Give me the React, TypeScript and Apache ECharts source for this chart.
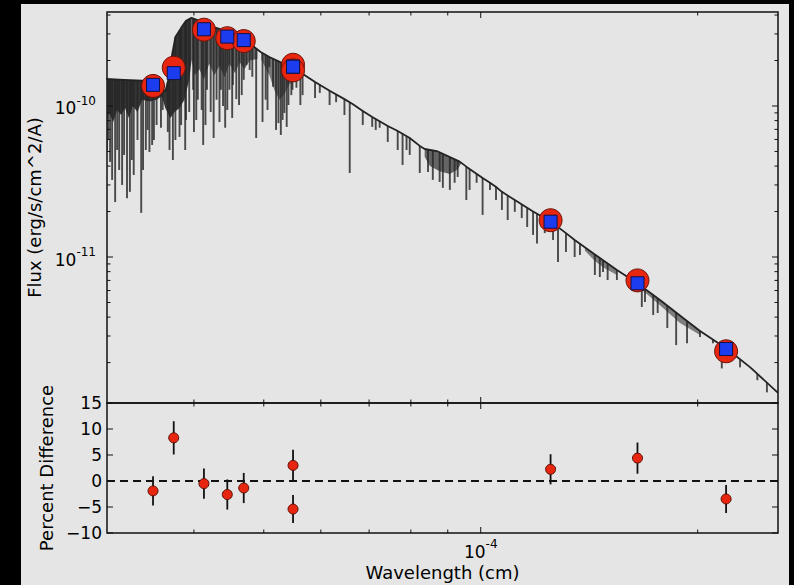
import React, { useEffect, useRef } from 'react';
import * as echarts from 'echarts';

// ---------- data ----------
// model spectrum: continuum (upper envelope), wavelength in cm, flux in erg/s/cm^2/A
const spectrumWave = [3.02e-5, 3.20e-5, 3.39e-5, 3.52e-5, 3.61e-5, 3.65e-5, 3.70e-5, 3.73e-5, 3.77e-5, 3.84e-5,
  3.90e-5, 3.97e-5, 4.07e-5, 4.20e-5, 4.34e-5, 4.48e-5, 4.63e-5, 4.75e-5, 4.87e-5, 4.95e-5,
  5.09e-5, 5.26e-5, 5.48e-5, 5.72e-5, 5.89e-5, 6.17e-5, 6.47e-5, 6.64e-5, 6.86e-5, 7.07e-5,
  7.43e-5, 7.67e-5, 7.97e-5, 8.23e-5, 8.36e-5, 8.69e-5, 9.35e-5, 9.56e-5, 1.006e-4, 1.03e-4,
  1.054e-4, 1.07e-4, 1.115e-4, 1.182e-4, 1.252e-4, 1.313e-4, 1.35e-4, 1.44e-4, 1.545e-4, 1.647e-4,
  1.773e-4, 1.909e-4, 2.015e-4, 2.197e-4, 2.366e-4, 2.585e-4];
const spectrumFlux = [1.51e-10, 1.49e-10, 1.47e-10, 1.38e-10, 1.32e-10, 1.24e-10, 1.60e-10, 2.18e-10, 2.86e-10, 3.29e-10,
  3.66e-10, 3.83e-10, 3.66e-10, 3.39e-10, 3.24e-10, 3.04e-10, 2.86e-10, 2.66e-10, 2.42e-10, 2.28e-10,
  2.11e-10, 1.96e-10, 1.81e-10, 1.58e-10, 1.44e-10, 1.26e-10, 1.11e-10, 1.03e-10, 9.27e-11, 8.46e-11,
  7.37e-11, 6.83e-11, 6.14e-11, 5.44e-11, 5.19e-11, 5.03e-11, 4.28e-11, 3.95e-11, 3.34e-11, 3.10e-11,
  2.87e-11, 2.70e-11, 2.385e-11, 2.00e-11, 1.71e-11, 1.44e-11, 1.296e-11, 1.04e-11, 8.2e-12, 6.74e-12,
  5.19e-12, 3.95e-12, 3.24e-12, 2.46e-12, 1.86e-12, 1.26e-12];

// absorption lines: wavelength and flux at the bottom of each line
const lineWave = [3.03e-5, 3.04e-5, 3.06e-5, 3.08e-5, 3.11e-5, 3.13e-5, 3.15e-5, 3.18e-5, 3.20e-5, 3.23e-5,
  3.26e-5, 3.28e-5, 3.30e-5, 3.34e-5, 3.38e-5, 3.40e-5, 3.43e-5, 3.45e-5, 3.47e-5, 3.50e-5,
  3.52e-5, 3.55e-5, 3.60e-5, 3.62e-5, 3.68e-5, 3.70e-5, 3.74e-5, 3.77e-5, 3.82e-5, 3.84e-5,
  3.89e-5, 3.90e-5, 3.94e-5, 3.99e-5, 4.00e-5, 4.03e-5, 4.05e-5, 4.10e-5, 4.12e-5, 4.15e-5,
  4.17e-5, 4.22e-5, 4.26e-5, 4.30e-5, 4.34e-5, 4.36e-5, 4.39e-5, 4.42e-5, 4.45e-5, 4.48e-5,
  4.52e-5, 4.53e-5, 4.58e-5, 4.62e-5, 4.66e-5, 4.69e-5, 4.73e-5, 4.78e-5, 4.82e-5, 4.88e-5,
  4.98e-5, 5.03e-5, 5.06e-5, 5.09e-5, 5.15e-5, 5.20e-5, 5.24e-5, 5.28e-5, 5.31e-5, 5.34e-5,
  5.38e-5, 5.41e-5, 5.46e-5, 5.48e-5, 5.55e-5, 5.62e-5, 5.66e-5, 5.89e-5, 5.98e-5, 6.17e-5,
  6.30e-5, 6.47e-5, 6.58e-5, 6.86e-5, 7.07e-5, 7.15e-5, 7.24e-5, 7.43e-5, 7.67e-5, 7.79e-5,
  7.89e-5, 7.97e-5, 8.23e-5, 8.45e-5, 8.58e-5, 8.77e-5, 8.86e-5, 9.06e-5, 9.20e-5, 9.29e-5,
  9.55e-5, 9.65e-5, 9.87e-5, 1.006e-4, 1.03e-4, 1.05e-4, 1.07e-4, 1.09e-4, 1.115e-4, 1.14e-4,
  1.16e-4, 1.182e-4, 1.197e-4, 1.227e-4, 1.26e-4, 1.28e-4, 1.313e-4, 1.35e-4, 1.373e-4, 1.44e-4,
  1.463e-4, 1.478e-4, 1.50e-4, 1.545e-4, 1.673e-4, 1.69e-4, 1.735e-4, 1.76e-4, 1.815e-4, 1.867e-4,
  1.933e-4, 2.015e-4, 2.10e-4, 2.16e-4, 2.29e-4, 2.42e-4, 2.495e-4];
const lineFlux = [5.11e-11, 5.95e-11, 4.26e-11, 3.24e-11, 2.31e-11, 5.11e-11, 3.77e-11, 3.00e-11, 4.74e-11, 2.45e-11,
  2.70e-11, 4.39e-11, 3.49e-11, 5.95e-11, 1.96e-11, 3.77e-11, 5.11e-11, 6.94e-11, 4.96e-11, 5.52e-11,
  5.95e-11, 7.48e-11, 7.18e-11, 9.41e-11, 6.72e-11, 5.11e-11, 4.39e-11, 5.95e-11, 6.24e-11, 7.48e-11,
  5.11e-11, 8.08e-11, 9.13e-11, 1.28e-10, 6.72e-11, 8.08e-11, 1.10e-10, 9.41e-11, 5.52e-11, 7.48e-11,
  1.28e-10, 9.13e-11, 6.14e-11, 1.10e-10, 7.83e-11, 1.28e-10, 1.00e-10, 7.18e-11, 9.41e-11, 1.28e-10,
  8.33e-11, 1.38e-10, 1.11e-10, 1.015e-10, 1.18e-10, 1.49e-10, 1.87e-10, 1.73e-10, 1.56e-10, 6.14e-11,
  7.83e-11, 1.10e-10, 9.41e-11, 1.81e-10, 1.34e-10, 6.94e-11, 7.70e-11, 6.43e-11, 8.08e-11, 8.99e-11,
  7.27e-11, 1.015e-10, 1.18e-10, 1.28e-10, 1.32e-10, 1.015e-10, 1.18e-10, 1.13e-10, 1.22e-10, 1.015e-10,
  1.06e-10, 8.72e-11, 3.60e-11, 7.48e-11, 7.27e-11, 6.94e-11, 7.18e-11, 5.78e-11, 5.11e-11, 4.07e-11,
  5.11e-11, 4.74e-11, 3.60e-11, 3.66e-11, 3.24e-11, 3.14e-11, 2.87e-11, 2.78e-11, 3.10e-11, 3.39e-11,
  2.385e-11, 2.78e-11, 3.10e-11, 1.90e-11, 2.78e-11, 2.385e-11, 2.05e-11, 1.758e-11, 1.99e-11, 1.81e-11,
  1.58e-11, 1.40e-11, 1.23e-11, 1.44e-11, 1.296e-11, 9.27e-12, 1.08e-11, 1.00e-11, 1.03e-11, 7.6e-12,
  7.37e-12, 7.95e-12, 7.04e-12, 7.04e-12, 4.67e-12, 5.03e-12, 4.13e-12, 4.26e-12, 3.39e-12, 2.61e-12,
  2.69e-12, 2.95e-12, 2.69e-12, 1.83e-12, 1.86e-12, 1.53e-12, 1.27e-12];

// lower edges of the blended (dense) absorption regions: [wavelength, flux]
const blendUV = [[3.02e-5, 6.94e-11], [3.05e-5, 9.13e-11], [3.09e-5, 7.83e-11], [3.13e-5, 9.41e-11], [3.17e-5, 8.72e-11],
  [3.21e-5, 9.7e-11], [3.25e-5, 8.33e-11], [3.29e-5, 1.0e-10], [3.34e-5, 9.13e-11], [3.39e-5, 1.10e-10],
  [3.47e-5, 1.07e-10], [3.55e-5, 1.10e-10], [3.61e-5, 1.16e-10], [3.65e-5, 9.7e-11], [3.71e-5, 8.33e-11],
  [3.76e-5, 9.13e-11], [3.82e-5, 9.7e-11], [3.88e-5, 1.10e-10], [3.94e-5, 1.49e-10], [3.97e-5, 2.02e-10]];
const blendBlue = [[3.97e-5, 2.02e-10], [4.01e-5, 1.6e-10], [4.07e-5, 1.75e-10], [4.13e-5, 1.5e-10], [4.20e-5, 1.9e-10],
  [4.27e-5, 1.6e-10], [4.34e-5, 1.85e-10], [4.41e-5, 1.55e-10], [4.48e-5, 1.9e-10], [4.56e-5, 1.65e-10],
  [4.63e-5, 1.95e-10], [4.70e-5, 1.75e-10], [4.78e-5, 2.0e-10], [4.90e-5, 2.05e-10]];
const blendGreen = [[4.96e-5, 2.02e-10], [5.09e-5, 1.6e-10], [5.18e-5, 1.25e-10], [5.26e-5, 1.1e-10], [5.34e-5, 1.2e-10],
  [5.43e-5, 1.4e-10], [5.52e-5, 1.5e-10], [5.61e-5, 1.55e-10]];
const blendNIR = [[8.36e-5, 4.62e-11], [8.50e-5, 4.0e-11], [8.77e-5, 3.7e-11], [9.06e-5, 3.55e-11], [9.29e-5, 3.8e-11],
  [9.40e-5, 4.2e-11]];
const blendJH = [[1.395e-4, 1.1e-11], [1.44e-4, 9.4e-12], [1.482e-4, 8.5e-12], [1.545e-4, 7.6e-12]];
const blendHK = [[1.663e-4, 6.2e-12], [1.773e-4, 4.8e-12], [1.89e-4, 3.65e-12], [2.015e-4, 3.05e-12]];

// photometry
const photWave = [3.51e-5, 3.75e-5, 4.13e-5, 4.45e-5, 4.69e-5, 5.49e-5, 5.49e-5, 1.25e-4, 1.65e-4, 2.19e-4];
const obsFlux = [1.357e-10, 1.793e-10, 3.20e-10, 2.81e-10, 2.69e-10, 1.875e-10, 1.72e-10, 1.752e-11, 7.0e-12, 2.375e-12];
const modelFlux = [1.38e-10, 1.65e-10, 3.22e-10, 2.88e-10, 2.73e-10, 1.82e-10, 1.82e-10, 1.713e-11, 6.70e-12, 2.46e-12];
const percentDiff = [-1.9, 8.3, -0.5, -2.6, -1.35, 3.0, -5.4, 2.25, 4.4, -3.45];
const percentErr = [2.8, 3.2, 2.9, 2.9, 2.9, 3.0, 2.7, 2.9, 3.0, 2.7];

// axes
const X_MIN = 3.03e-5;
const X_MAX = 2.585e-4;
const FLUX_MIN = 1.08e-12;
const FLUX_MAX = 4.19e-10;
const xMajorTicks = [1e-4];
const xMinorTicks = [4e-5, 5e-5, 6e-5, 7e-5, 8e-5, 9e-5, 2e-4];
const fluxMajorTicks = [1e-11, 1e-10];
const fluxMinorTicks = [2e-12, 3e-12, 4e-12, 5e-12, 6e-12, 7e-12, 8e-12, 9e-12,
  2e-11, 3e-11, 4e-11, 5e-11, 6e-11, 7e-11, 8e-11, 9e-11, 2e-10, 3e-10, 4e-10];
const diffTicks = [-10, -5, 0, 5, 10, 15];

const FONT = 'DejaVu Sans';
const blendFills = ['rgba(46,46,46,0.96)', 'rgba(45,45,45,0.7)', 'rgba(45,45,45,0.6)',
  'rgba(45,45,45,0.7)', 'rgba(40,40,40,0.55)', 'rgba(40,40,40,0.55)'];

const powLabel = (v: number) => {
  const e = Math.log10(v);
  const r = Math.round(e);
  if (Math.abs(e - r) > 1e-6) return '';
  return `{b|10}{s|${r}}`;
};
const powRich = {
  b: { fontSize: 17, fontFamily: FONT, color: '#000', lineHeight: 22, verticalAlign: 'bottom' },
  s: { fontSize: 12, fontFamily: FONT, color: '#000', lineHeight: 13, verticalAlign: 'top' },
};

function continuumPx(api: any) {
  return spectrumWave.map((w, i) => api.coord([w, spectrumFlux[i]]));
}
function yOnContinuum(px: number[][], x: number) {
  if (x <= px[0][0]) return px[0][1];
  for (let i = 0; i < px.length - 1; i++) {
    const a = px[i], b = px[i + 1];
    if (x >= a[0] && x <= b[0]) {
      const t = (x - a[0]) / (b[0] - a[0] || 1);
      return a[1] + t * (b[1] - a[1]);
    }
  }
  return px[px.length - 1][1];
}

function tickSeries(xIdx: number, yIdx: number, anchor: number[], yMajor: number[], yMinor: number[]) {
  return {
    type: 'custom', xAxisIndex: xIdx, yAxisIndex: yIdx, silent: true, clip: false, z: 20,
    data: [anchor],
    renderItem: (params: any, api: any) => {
      const cs = params.coordSys;
      const x0 = cs.x, x1 = cs.x + cs.width, y0 = cs.y, y1 = cs.y + cs.height;
      const children: any[] = [];
      const seg = (a: number, b: number, c: number, d: number) =>
        children.push({ type: 'line', shape: { x1: a, y1: b, x2: c, y2: d }, style: { stroke: '#111', lineWidth: 1 } });
      yMajor.forEach((v) => { const y = api.coord([anchor[0], v])[1]; seg(x0, y, x0 + 6, y); seg(x1 - 6, y, x1, y); });
      yMinor.forEach((v) => { const y = api.coord([anchor[0], v])[1]; seg(x0, y, x0 + 3.5, y); seg(x1 - 3.5, y, x1, y); });
      xMajorTicks.forEach((v) => { const x = api.coord([v, anchor[1]])[0]; seg(x, y1, x, y1 - 6); seg(x, y0, x, y0 + 6); });
      xMinorTicks.forEach((v) => { const x = api.coord([v, anchor[1]])[0]; seg(x, y1, x, y1 - 3.5); seg(x, y0, x, y0 + 3.5); });
      return { type: 'group', children };
    },
  };
}

export default function App() {
  const ref = useRef<HTMLDivElement>(null);
  useEffect(() => {
    const chart = echarts.init(ref.current!, null, { renderer: 'svg' });
    const blends = [blendUV, blendBlue, blendGreen, blendNIR, blendJH, blendHK];
    const option: any = {
      animation: false,
      backgroundColor: 'transparent',
      textStyle: { fontFamily: FONT },
      grid: [
        { left: 107, top: 12, width: 671, height: 391, show: true, borderColor: '#111', borderWidth: 1.5, backgroundColor: 'transparent' },
        { left: 107, top: 403, width: 671, height: 130, show: true, borderColor: '#111', borderWidth: 1.5, backgroundColor: 'transparent' },
      ],
      xAxis: [
        { gridIndex: 0, type: 'log', logBase: 10, min: X_MIN, max: X_MAX, axisLine: { show: false }, axisTick: { show: false },
          axisLabel: { show: false }, splitLine: { show: false } },
        { gridIndex: 1, type: 'log', logBase: 10, min: X_MIN, max: X_MAX, axisLine: { show: false }, axisTick: { show: false },
          splitLine: { show: false },
          axisLabel: { show: true, formatter: powLabel, rich: powRich, margin: 5, showMinLabel: false, showMaxLabel: false },
          name: 'Wavelength (cm)', nameLocation: 'middle', nameGap: 30,
          nameTextStyle: { fontFamily: FONT, fontSize: 18, color: '#000' } },
      ],
      yAxis: [
        { gridIndex: 0, type: 'log', logBase: 10, min: FLUX_MIN, max: FLUX_MAX, axisLine: { show: false }, axisTick: { show: false },
          splitLine: { show: false },
          axisLabel: { formatter: powLabel, rich: powRich, margin: 11, showMinLabel: false, showMaxLabel: false },
          name: 'Flux (erg/s/cm^2/A)', nameLocation: 'middle', nameGap: 62,
          nameTextStyle: { fontFamily: FONT, fontSize: 18, color: '#000' } },
        { gridIndex: 1, type: 'value', min: -10, max: 15, interval: 5, axisLine: { show: false }, axisTick: { show: false },
          splitLine: { show: false },
          axisLabel: { fontFamily: FONT, fontSize: 17, color: '#000', margin: 5,
            formatter: (v: number) => String(v).replace('-', '\u2212') },
          name: 'Percent Difference', nameLocation: 'middle', nameGap: 47,
          nameTextStyle: { fontFamily: FONT, fontSize: 18, color: '#000' } },
      ],
      series: [
        {
          type: 'custom', name: 'blends', xAxisIndex: 0, yAxisIndex: 0, clip: true, silent: true, z: 2,
          data: blends.map((b, i) => [b[0][0], b[0][1], i]),
          renderItem: (params: any, api: any) => {
            const band = blends[params.dataIndex];
            const cont = continuumPx(api);
            const lower = band.map((p) => api.coord(p));
            const xs = lower[0][0], xe = lower[lower.length - 1][0];
            const top: number[][] = [[xs, yOnContinuum(cont, xs)]];
            cont.forEach((p) => { if (p[0] > xs && p[0] < xe) top.push([p[0], p[1]]); });
            top.push([xe, yOnContinuum(cont, xe)]);
            const pts = top.concat(lower.slice().reverse());
            return { type: 'polygon', shape: { points: pts }, style: { fill: blendFills[params.dataIndex] } };
          },
        },
        {
          type: 'custom', name: 'absorption lines', xAxisIndex: 0, yAxisIndex: 0, clip: true, silent: true, z: 3,
          data: lineWave.map((w, i) => [w, lineFlux[i]]),
          renderItem: (params: any, api: any) => {
            const cont = continuumPx(api);
            const p = api.coord([api.value(0), api.value(1)]);
            const yTop = yOnContinuum(cont, p[0]);
            return { type: 'line', shape: { x1: p[0], y1: yTop, x2: p[0], y2: p[1] },
              style: { stroke: 'rgba(38,38,38,0.82)', lineWidth: 1.9 } };
          },
        },
        {
          type: 'line', name: 'model spectrum', xAxisIndex: 0, yAxisIndex: 0, z: 4, symbol: 'none', showSymbol: false,
          data: spectrumWave.map((w, i) => [w, spectrumFlux[i]]),
          lineStyle: { color: '#222', width: 1.8 },
        },
        {
          type: 'scatter', name: 'observed', xAxisIndex: 0, yAxisIndex: 0, z: 5, symbol: 'circle', symbolSize: 23,
          data: photWave.map((w, i) => [w, obsFlux[i]]),
          itemStyle: { color: '#e8260f', borderColor: '#6b1208', borderWidth: 1, opacity: 1 },
        },
        {
          type: 'scatter', name: 'synthetic', xAxisIndex: 0, yAxisIndex: 0, z: 6, symbol: 'rect', symbolSize: 13,
          data: photWave.map((w, i) => [w, modelFlux[i]]),
          itemStyle: { color: '#1c3cf0', borderColor: '#10104a', borderWidth: 1, opacity: 1 },
        },
        tickSeries(0, 0, [1e-4, 1e-11], fluxMajorTicks, fluxMinorTicks),
        {
          type: 'line', name: 'zero', xAxisIndex: 1, yAxisIndex: 1, z: 2, symbol: 'none', showSymbol: false, silent: true,
          data: [[X_MIN, 0], [X_MAX, 0]],
          lineStyle: { color: '#111', width: 1.8, type: [8, 5] },
        },
        {
          type: 'custom', name: 'error bars', xAxisIndex: 1, yAxisIndex: 1, z: 3, silent: true,
          data: photWave.map((w, i) => [w, percentDiff[i], percentErr[i]]),
          renderItem: (params: any, api: any) => {
            const w = api.value(0), v = api.value(1), e = api.value(2);
            const a = api.coord([w, v - e]);
            const b = api.coord([w, v + e]);
            return { type: 'line', shape: { x1: a[0], y1: a[1], x2: b[0], y2: b[1] }, style: { stroke: '#111', lineWidth: 1.8 } };
          },
        },
        {
          type: 'scatter', name: 'percent difference', xAxisIndex: 1, yAxisIndex: 1, z: 5, symbolSize: 10,
          data: photWave.map((w, i) => [w, percentDiff[i]]),
          itemStyle: { color: '#e8260f', borderColor: '#5a1005', borderWidth: 1, opacity: 1 },
        },
        tickSeries(1, 1, [1e-4, 0], diffTicks, []),
      ],
    };
    chart.setOption(option);
    return () => chart.dispose();
  }, []);
  return (
    <div style={{ position: 'fixed', left: 0, top: 0, width: 794, height: 585, background: '#000', overflow: 'hidden' }}>
      <div style={{ position: 'absolute', left: 21, top: 4, width: 768, height: 581, background: '#e5e5e5' }} />
      <div ref={ref} style={{ position: 'absolute', left: 0, top: 0, width: 794, height: 585 }} />
    </div>
  );
}
